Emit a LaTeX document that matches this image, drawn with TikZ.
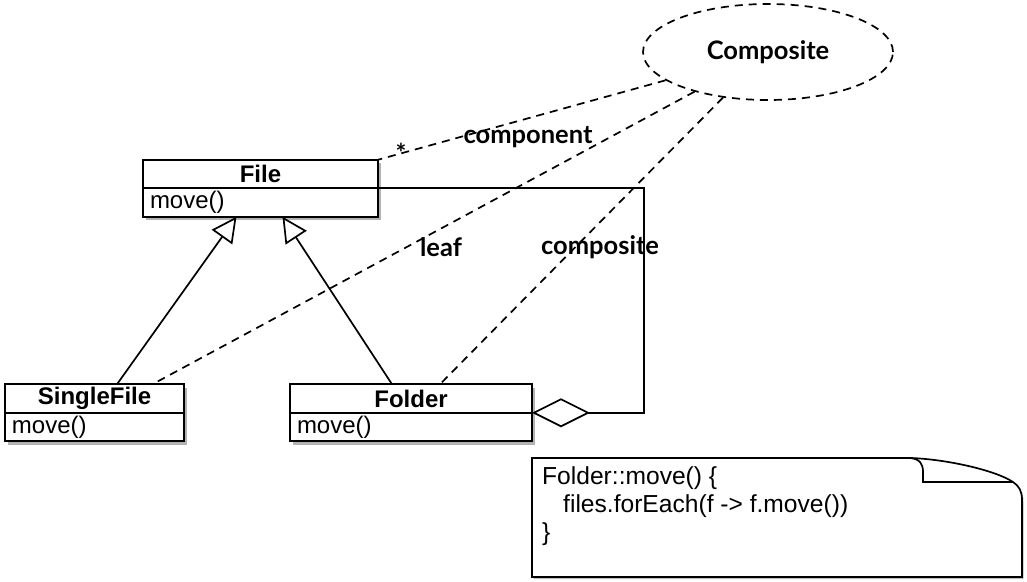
\documentclass[tikz,border=0pt]{standalone}
\usepackage{fontspec}
\setmainfont{Liberation Sans}
\newfontfamily\lblfont{Lato}
\usetikzlibrary{shapes.geometric,arrows.meta,shadows,calc}

\tikzset{
  boxshadow/.style={drop shadow={shadow xshift=2.5pt, shadow yshift=-3.5pt, opacity=.3, fill=black}},
  classname/.style={draw, fill=white, line width=1.7pt, minimum width=#1, minimum height=28.5pt,
    inner sep=0pt, outer sep=0pt, font=\fontsize{24}{28}\selectfont\bfseries, boxshadow},
  classops/.style={draw, fill=white, line width=1.7pt, text width=#1, inner xsep=7pt, inner ysep=0pt,
    outer sep=0pt, minimum height=28.5pt, align=left, font=\fontsize{24}{28}\selectfont, boxshadow},
  lbl/.style={font=\lblfont\fontsize{25.5}{30}\selectfont\bfseries, inner sep=1pt},
  assoc/.style={line width=1.7pt, dash pattern=on 8pt off 6pt},
  inherit/.style={line width=1.7pt, -{Triangle[open, length=25pt, width=25pt, fill=white]}},
  aggr/.style={line width=1.7pt, -{Diamond[open, length=58pt, width=29pt, fill=white]}},
}

\begin{document}
\begin{tikzpicture}[x=1pt, y=-1pt]
  \useasboundingbox[fill=white] (0,0) rectangle (1027,581);

  % classes
  \node[classname=235pt] (file) at (260.5,174) {File};
  \node[classops=221pt, anchor=north] (fileops) at (file.south) {move()};
  \node[classname=179pt] (single) at (94.5,398.5) {SingleFile};
  \node[classops=165pt, anchor=north] (singleops) at (single.south) {move()};
  \node[classname=242pt] (folder) at (411,398.5) {Folder};
  \node[classops=228pt, anchor=north] (folderops) at (folder.south) {move()};

  % pattern
  \node[ellipse, draw, assoc, minimum width=250pt, minimum height=96pt, lbl] (composite) at (768,52) {Composite};

  % note
  \draw[line width=1.7pt, fill=white, drop shadow={shadow xshift=1.5pt, shadow yshift=-2pt, opacity=.25, fill=black}]
    (532,458) -- (910,458) .. controls (945,459) and (995,470) .. (1013,482)
    .. controls (1019,486) and (1022,491) .. (1022,500) -- (1022,577) -- (532,577) -- cycle;
  \draw[line width=1.7pt] (910,458) .. controls (920,459) and (923,464) .. (923,472) -- (923,482) -- (1013,482);
  \node[anchor=north west, align=left, inner sep=0pt, font=\fontsize{24.6}{28}\selectfont] (code) at (542,466)
    {Folder::move() \{\\\hspace*{21pt}files.forEach(f -> f.move())\\\}};

  % relations
  \draw[inherit] ($(single.north)+(22.5,0)$) -- ($(fileops.south)+(-24,0)$);
  \draw[inherit] ($(folder.north)+(-19,0)$) -- ($(fileops.south)+(22,0)$);
  \draw[aggr] (file.south east) -- ++(266,0) |- (folder.south east);

  \draw[assoc] (composite) -- (file.north east);
  \draw[assoc] (composite) -- ($(single.north)+(58,0)$);
  \draw[assoc] (composite) -- ($(folder.north)+(29,0)$);

  \node[lbl] (star) at (401,153) {*};
  \node[lbl] (complbl) at (528,137) {component};
  \node[lbl] (leaflbl) at (441,247) {leaf};
  \node[lbl] (compositelbl) at (600,247) {composite};
\end{tikzpicture}
\end{document}
